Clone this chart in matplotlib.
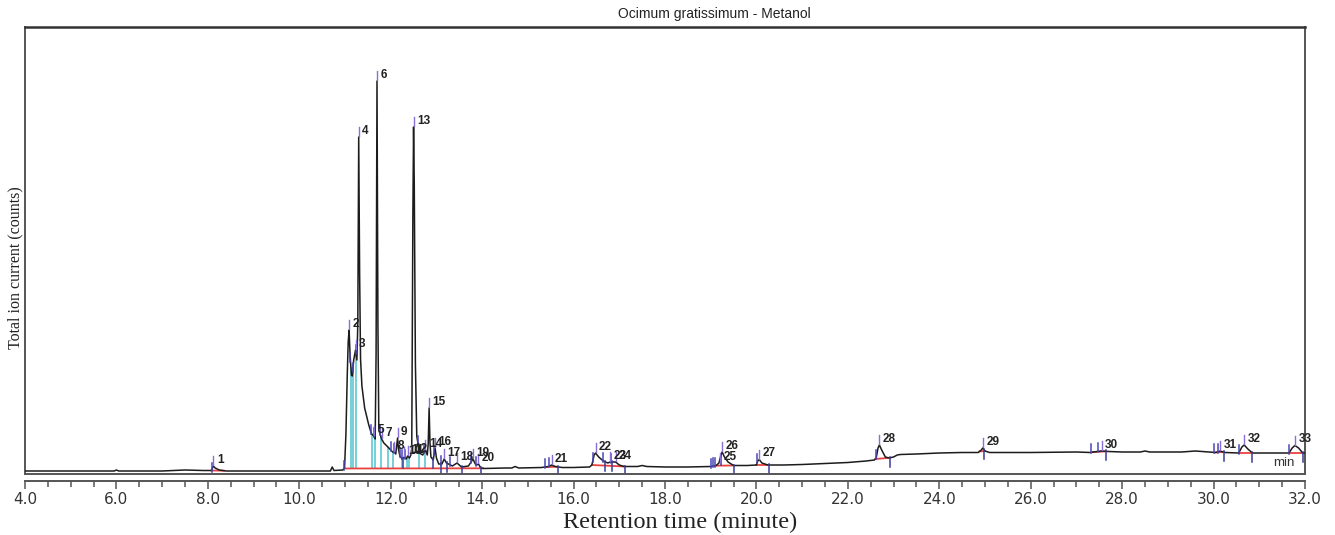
import matplotlib
matplotlib.use("Agg")
import matplotlib.pyplot as plt
import numpy as np
from matplotlib.ticker import MultipleLocator, FormatStrFormatter

# total ion current trace (time in min, abundance in arbitrary units)
trace_t = [4.0, 5.0, 5.95, 6.0, 6.05, 7.0, 7.5, 7.9, 8.08, 8.10, 8.12, 8.16, 8.25, 8.4, 9.0, 10.0,
           10.68, 10.72, 10.76, 10.95,
           10.99, 11.02, 11.05, 11.07, 11.09, 11.11, 11.14, 11.16, 11.19, 11.23, 11.26, 11.28, 11.30,
           11.32, 11.34, 11.37, 11.43, 11.52, 11.58, 11.63, 11.66, 11.68, 11.70, 11.72, 11.74, 11.80,
           11.85, 11.96, 12.04, 12.08, 12.11, 12.13, 12.15, 12.17, 12.20, 12.25, 12.30, 12.34, 12.37,
           12.41, 12.44, 12.46, 12.485, 12.50, 12.515, 12.54, 12.57, 12.63, 12.70, 12.76, 12.80, 12.82,
           12.84, 12.86, 12.88, 12.93, 12.97, 13.00, 13.05, 13.12, 13.17, 13.22, 13.35, 13.45, 13.55,
           13.70, 13.77, 13.80, 13.85, 13.88, 13.92, 13.97, 14.05,
           14.5, 14.65, 14.72, 14.8, 15.3, 15.45, 15.52, 15.6, 15.75, 16.0, 16.35, 16.40, 16.45, 16.48,
           16.55, 16.65, 16.75, 16.80, 16.87, 16.92, 17.0, 17.1, 17.4, 17.5, 17.6, 18.0, 18.5, 19.0,
           19.12, 19.18, 19.22, 19.25, 19.30, 19.38, 19.5, 19.8, 20.0, 20.03, 20.06, 20.12, 20.25, 20.6,
           21.0, 21.5, 22.0, 22.4, 22.58, 22.62, 22.66, 22.69, 22.74, 22.82, 22.9, 23.0, 23.08, 23.15,
           23.5, 24.0, 24.5, 24.85, 24.92, 24.95, 25.0, 25.1, 26.0, 27.0, 27.3, 27.45, 27.55, 27.7,
           28.0, 28.4, 28.5, 28.6, 29.3, 29.6, 29.9, 30.05, 30.14, 30.25, 30.55, 30.62, 30.67, 30.75,
           30.85, 31.3, 31.65, 31.72, 31.78, 31.86, 31.95, 32.0]
trace_y = [3, 3, 3, 4, 3, 3, 4, 3.5, 3.5, 6, 8, 6, 4, 3, 3, 3,
           3, 7, 3.5, 4,
           6, 40, 100, 132, 144, 120, 99, 98, 114, 124, 114, 150, 337,
           200, 115, 88, 66, 49, 40, 38, 35, 120, 393, 150, 44, 35,
           31, 26, 22, 22, 20, 28, 36, 25, 18, 15, 17, 15, 18,
           16, 19, 25, 260, 347, 290, 110, 38, 21, 19, 24, 19, 30,
           66, 30, 17, 14, 26, 16, 10, 10, 15, 11, 8, 11, 7,
           8, 13, 15, 10, 9, 10, 6, 5.5,
           6, 6, 7.5, 6, 6.5, 7.5, 9, 7.5, 6.5, 6.5, 7, 9, 19, 21,
           17, 13, 11, 12, 12, 12, 9, 7.5, 7.5, 8.5, 7.5, 7, 7, 7.5,
           8.5, 11, 18, 22, 17, 12, 8.5, 8.5, 9, 13, 14.5, 11, 9, 9,
           9.5, 10.5, 11.5, 13, 14, 16, 26, 29, 24, 17, 16, 17, 19, 19.5,
           20, 21, 21.5, 21.5, 24, 26, 23, 21.5, 21.5, 22, 21.5, 22.5, 23, 22.5,
           22, 22, 23, 22, 22, 23, 22, 21.5, 23, 21.5, 21, 27, 29, 25,
           21, 21, 21, 26, 28.5, 26, 21, 21]

# identified peaks: number, retention time, apex abundance
peak_num = [str(i) for i in range(1, 34)]
peak_rt = [8.12, 11.09, 11.23, 11.30, 11.63, 11.70, 11.80, 12.08, 12.15, 12.30, 12.37, 12.44,
           12.50, 12.76, 12.84, 12.97, 13.17, 13.45, 13.80, 13.92, 15.52, 16.48, 16.80, 16.92,
           19.20, 19.25, 20.06, 22.69, 24.95, 27.55, 30.14, 30.67, 31.78]
peak_h = [8, 144, 124, 337, 38, 393, 35, 22, 36, 17, 18, 19,
          347, 24, 66, 26, 15, 11, 15, 10, 9, 21, 12, 12,
          11, 22, 14.5, 29, 26, 23, 23, 29, 28.5]

# integration marks
start_marks = [8.08, 10.98, 11.12, 11.17, 11.24, 11.57, 11.63, 11.77, 12.0, 12.07, 12.2, 12.24,
               12.32, 12.6, 12.73, 12.95, 13.1, 13.3, 13.75, 13.87, 15.38, 15.46, 16.42, 16.65,
               16.82, 19.0, 19.05, 19.1, 20.02, 22.62, 27.32, 27.48, 30.02, 30.1, 30.55, 31.65]
end_marks = [12.26, 12.92, 13.09, 13.24, 13.57, 13.97, 15.65, 16.68, 16.85, 17.12, 19.22, 19.5,
             20.28, 22.92, 24.98, 27.65, 30.22, 30.85, 31.95]
drop_lines = [11.13, 11.18, 11.24, 11.58, 11.65, 11.78, 11.95, 12.06, 12.25, 12.35, 12.40,
              12.61, 12.74]
base_start = [8.08, 10.98, 15.38, 16.40, 19.10, 20.00, 22.60, 24.88, 27.35, 30.02, 30.55, 31.65]
base_end = [8.35, 14.02, 15.65, 17.12, 19.50, 20.28, 22.92, 25.00, 27.65, 30.22, 30.85, 31.97]

sans = "Liberation Sans"
serif = "Liberation Serif"
frame_col = "#555555"

fig = plt.figure(figsize=(13.35, 5.35), dpi=100)
ax = fig.add_axes([25 / 1335, 61 / 535, 1280 / 1335, 447 / 535])

t_arr = np.array(trace_t)
y_arr = np.array(trace_y)

# baselines
for a, b in zip(base_start, base_end):
    ya, yb = np.interp([a, b], t_arr, y_arr)
    ax.plot([a, b], [ya, yb], color="#e8423f", lw=1.3, zorder=2)

# drop lines to the baseline
bs, be = base_start[1], base_end[1]
ybs, ybe = np.interp([bs, be], t_arr, y_arr)
for t in drop_lines:
    yb = np.interp(t, [bs, be], [ybs, ybe])
    ax.plot([t, t], [yb, np.interp(t, t_arr, y_arr)], color="#5ec8d2", lw=1.2, zorder=1)

ax.plot(t_arr, y_arr, color="#1c1c1c", lw=1.1, zorder=3)

for t in start_marks:
    y = np.interp(t, t_arr, y_arr)
    ax.plot([t, t], [y - 1, y + 8], color="#4a47b8", lw=1.1, zorder=4)
for t in end_marks:
    y = np.interp(t, t_arr, y_arr)
    ax.plot([t, t], [y + 1, y - 9], color="#3b3c9a", lw=1.1, zorder=4)

for num, t, h in zip(peak_num, peak_rt, peak_h):
    ax.plot([t, t], [h + 1, h + 10], color="#8a6fd6", lw=1.0, zorder=4)
    ax.annotate(num, (t, h), xytext=(2.5, 0), textcoords="offset points",
                ha="left", va="bottom", fontsize=8.5, fontweight="bold",
                family=sans, color="#222222", annotation_clip=False, zorder=5)
for txt in ax.texts:
    txt.set_clip_on(True)

ax.text(0.9836, 0.012, "min", transform=ax.transAxes, ha="center", va="bottom",
        fontsize=9.5, family=sans, color="#333333")

ax.set_xlim(4.0, 32.0)
ax.set_ylim(0, 447)
ax.set_yticks([])
ax.xaxis.set_major_locator(MultipleLocator(2.0))
ax.xaxis.set_minor_locator(MultipleLocator(0.5))
ax.xaxis.set_major_formatter(FormatStrFormatter("%.1f"))
ax.tick_params(axis="x", which="major", direction="out", length=6, width=1.1,
               color=frame_col, labelsize=11, labelcolor="#333333", pad=2)
ax.tick_params(axis="x", which="minor", direction="out", length=4, width=1.1, color=frame_col)
for lab in ax.get_xticklabels():
    lab.set_family(sans)

for side in ["top", "left", "right", "bottom"]:
    ax.spines[side].set_color(frame_col)
    ax.spines[side].set_linewidth(1.4)
ax.spines["top"].set_color("#333333")
ax.spines["top"].set_linewidth(1.8)
ax.spines["bottom"].set_position(("outward", 5))
ax.axhline(0, color=frame_col, lw=1.4, clip_on=False, zorder=6)

fig.text(714 / 1335, 1 - 14 / 535, "Ocimum gratissimum - Metanol", ha="center", va="center",
         fontsize=10, family=sans, color="#222222")
fig.text(680 / 1335, 1 - 522 / 535, "Retention time (minute)", ha="center", va="center",
         fontsize=17.5, family=serif, color="#222222")
fig.text(15 / 1335, 1 - 268 / 535, "Total ion current (counts)", ha="center", va="center",
         rotation=90, fontsize=11.5, family=serif, color="#222222")

fig.savefig("out.png", dpi=100)
